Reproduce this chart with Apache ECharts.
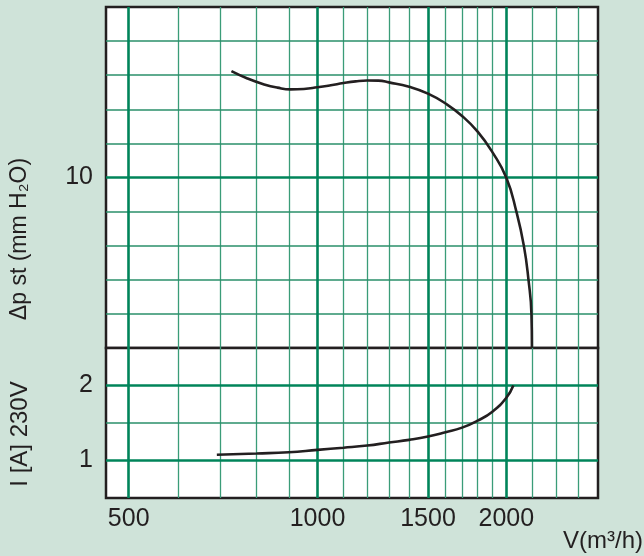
<!DOCTYPE html>
<html><head><meta charset="utf-8">
<script src="https://cdn.jsdelivr.net/npm/echarts@6/dist/echarts.min.js"></script>
<style>html,body{margin:0;padding:0;background:#cfe3d9;} #c{width:644px;height:556px;}</style>
</head><body><div id="c"></div><script>
// Axis ranges and ticks
const xMin = 460, xMax = 2800;
const xLabels = [500, 1000, 1500, 2000];
const xMajor = [500, 1000, 1500, 2000];
const xMinor = [600, 700, 800, 900, 1100, 1200, 1300, 1400, 1600, 1700, 1800, 1900, 2200, 2400, 2600];
const pMin = 0, pMax = 20, pStep = 2;
const pLabels = [10];
const pMajor = [10];
const pMinor = [2, 4, 6, 8, 12, 14, 16, 18];
const iMin = 0.5, iMax = 2.5, iStep = 0.5;
const iLabels = [1, 2];
const iMajor = [1, 2];
const iMinor = [1.5];

// Curves
const pressureV = [729, 773, 822, 863, 906, 951, 1000, 1050, 1100, 1150, 1200, 1250, 1300, 1400, 1500, 1600, 1700, 1800, 1900, 2000, 2076, 2133, 2169, 2193, 2197];
const pressureDp = [16.24, 15.81, 15.46, 15.27, 15.17, 15.19, 15.29, 15.41, 15.54, 15.64, 15.69, 15.68, 15.58, 15.32, 14.92, 14.34, 13.61, 12.69, 11.49, 9.98, 7.97, 5.99, 4.02, 2.0, 0];
const currentV = [691, 800, 900, 1000, 1100, 1200, 1300, 1400, 1500, 1600, 1700, 1800, 1900, 2000, 2052];
const currentI = [1.076, 1.093, 1.11, 1.142, 1.17, 1.199, 1.239, 1.275, 1.319, 1.376, 1.438, 1.531, 1.651, 1.837, 2.0];

const FONT = '"Liberation Sans", Arial, Helvetica, sans-serif';
const TXT = '#231f20';
const majorStyle = {color: '#00845a', width: 2.6, type: 'solid'};
const minorStyleV = {color: '#3a9c78', width: 1.3, type: 'solid'};
const minorStyleH = {color: '#2a8f6a', width: 1.5, type: 'solid'};

function gridLines(yMajor, yMinor) {
  const d = [];
  xMinor.forEach(v => d.push({xAxis: v, lineStyle: minorStyleV}));
  yMinor.forEach(v => d.push({yAxis: v, lineStyle: minorStyleH}));
  xMajor.forEach(v => d.push({xAxis: v, lineStyle: majorStyle}));
  yMajor.forEach(v => d.push({yAxis: v, lineStyle: majorStyle}));
  return d;
}
function helper(idx, yMajor, yMinor) {
  return {
    type: 'line', xAxisIndex: idx, yAxisIndex: idx, data: [], silent: true,
    markLine: {silent: true, symbol: ['none', 'none'], z: 1, animation: false,
      label: {show: false}, emphasis: {disabled: true}, data: gridLines(yMajor, yMinor)}
  };
}

const chart = echarts.init(document.getElementById('c'), null, {renderer: 'canvas'});
chart.setOption({
  animation: false,
  backgroundColor: '#cfe3d9',
  grid: [
    {left: 106, top: 7, width: 492, height: 341, show: true, backgroundColor: '#fff', borderColor: TXT, borderWidth: 2.5},
    {left: 106, top: 348, width: 492, height: 150, show: true, backgroundColor: '#fff', borderColor: TXT, borderWidth: 2.5}
  ],
  xAxis: [
    {type: 'log', logBase: 10, gridIndex: 0, min: xMin, max: xMax,
      axisLine: {show: false}, axisTick: {show: false}, axisLabel: {show: false}, splitLine: {show: false}},
    {type: 'log', logBase: 10, gridIndex: 1, min: xMin, max: xMax,
      axisLine: {show: false}, axisTick: {show: false}, splitLine: {show: false},
      axisLabel: {customValues: xLabels, formatter: v => String(Math.round(v)), margin: 9,
        fontSize: 25, fontFamily: FONT, color: TXT}}
  ],
  yAxis: [
    {type: 'value', gridIndex: 0, min: pMin, max: pMax, interval: pStep,
      axisLine: {show: false}, axisTick: {show: false}, splitLine: {show: false},
      axisLabel: {formatter: v => pLabels.includes(v) ? String(v) : '', margin: 13,
        fontSize: 25, fontFamily: FONT, color: TXT}},
    {type: 'value', gridIndex: 1, min: iMin, max: iMax, interval: iStep,
      axisLine: {show: false}, axisTick: {show: false}, splitLine: {show: false},
      axisLabel: {formatter: v => iLabels.includes(v) ? String(v) : '', margin: 13,
        fontSize: 25, fontFamily: FONT, color: TXT}}
  ],
  series: [
    helper(0, pMajor, pMinor),
    helper(1, iMajor, iMinor),
    {type: 'line', xAxisIndex: 0, yAxisIndex: 0, z: 5, showSymbol: false, smooth: 0.5,
      data: pressureV.map((v, i) => [v, pressureDp[i]]),
      lineStyle: {color: TXT, width: 2.6}},
    {type: 'line', xAxisIndex: 1, yAxisIndex: 1, z: 5, showSymbol: false, smooth: 0.5,
      data: currentV.map((v, i) => [v, currentI[i]]),
      lineStyle: {color: TXT, width: 2.6}}
  ],
  graphic: [
    {type: 'text', x: 20, y: 239, rotation: Math.PI / 2,
      style: {text: 'Δp st (mm H₂O)', font: '23px ' + FONT, fill: TXT, textAlign: 'center', textVerticalAlign: 'middle'}},
    {type: 'text', x: 20, y: 434, rotation: Math.PI / 2,
      style: {text: 'I [A] 230V', font: '24px ' + FONT, fill: TXT, textAlign: 'center', textVerticalAlign: 'middle'}},
    {type: 'text', x: 643, y: 541,
      style: {text: 'V(m³/h)', font: '24px ' + FONT, fill: TXT, textAlign: 'right', textVerticalAlign: 'middle'}}
  ]
});
</script></body></html>
